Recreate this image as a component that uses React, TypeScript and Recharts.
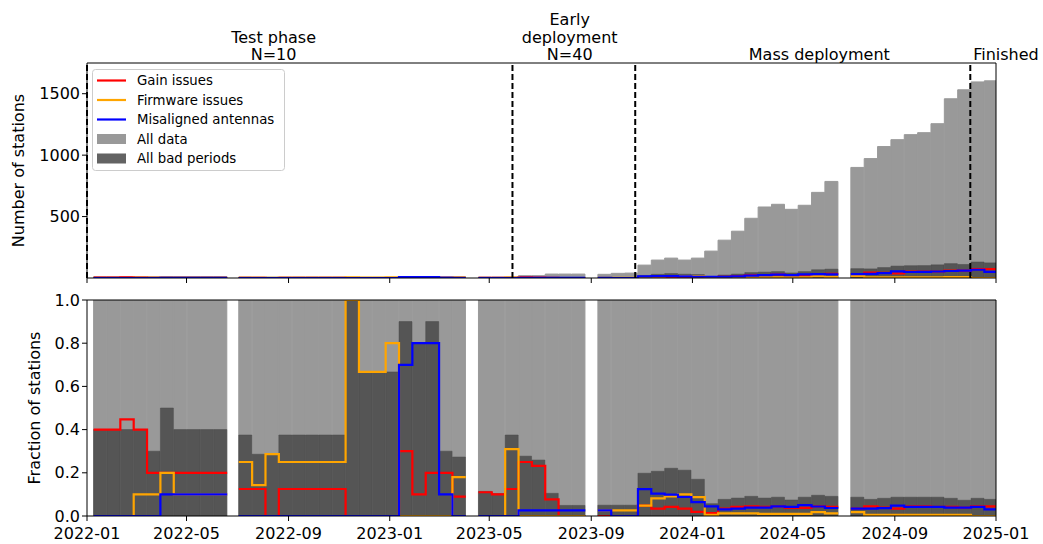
import React from "react";
import { ComposedChart, Bar, Line, XAxis, YAxis, ReferenceLine } from "recharts";

const FONT = "'DejaVu Sans', sans-serif";

// 16-day bins, grouped in runs without gaps
const runStarts = ["2022-01-09", "2022-07-03", "2023-04-18", "2023-09-09", "2024-07-10"];
const runBins = [10, 17, 8, 18, 11];
const BIN_DAYS = 16.1;

const monthTicks = ["2022-01", "2022-05", "2022-09", "2023-01", "2023-05", "2023-09", "2024-01", "2024-05", "2024-09", "2025-01"];

const phaseBounds = ["2022-01-01", "2023-05-29", "2023-10-24", "2024-12-01"];
const phaseTitles = [["Test phase", "N=10"], ["Early", "deployment", "N=40"], ["Mass deployment"], ["Finished"]];
const phaseTitleDates = ["2022-08-14", "2023-08-06", "2024-06-02", "2025-01-13"];

// station counts per bin
const allStations = [
  10, 10, 10, 10, 10, 10, 10, 10, 10, 10,
  8, 7, 7, 8, 8, 8, 8, 8, 5, 6, 6, 6, 10, 10, 10, 10, 11,
  8, 8, 8, 19, 19, 32, 32, 32,
  30, 38, 40, 105, 146, 162, 146, 162, 219, 308, 381, 486, 578, 600, 559, 592, 697, 786,
  900, 972, 1070, 1126, 1167, 1183, 1256, 1459, 1532, 1596, 1605,
];
const badStations = [
  4, 4, 4, 4, 3, 5, 4, 4, 4, 4,
  3, 2, 2, 3, 3, 3, 3, 3, 5, 4, 4, 4, 9, 8, 9, 3, 3,
  1, 1, 3, 5, 5, 3, 2, 2,
  2, 2, 2, 21, 30, 36, 31, 28, 12, 24, 32, 44, 48, 52, 41, 52, 67, 72,
  76, 74, 85, 97, 100, 101, 107, 117, 110, 130, 123,
];
const gainStations = [
  4, 4, 4.5, 4, 2, 2, 2, 2, 2, 2,
  1, 1, 0, 1, 1, 1, 1, 1, 0, 0, 0, 0, 3, 1, 2, 2, 1,
  1, 1, 1, 5, 4, 2, 0, 0,
  0, 0, 0, 5, 5, 7, 5, 3, 3, 10, 16, 22, 24, 27, 21, 22, 31, 33,
  31, 44, 42, 38, 53, 53, 53, 61, 60, 72, 72,
];
const firmwareStations = [
  0, 0, 0, 1, 1, 2, 1, 1, 1, 1,
  2, 1, 2, 2, 2, 2, 2, 2, 5, 4, 4, 5, 0, 0, 0, 0, 2,
  0, 0, 2.5, 0, 0, 0, 0, 0,
  1, 1, 1, 5, 12, 15, 15, 14, 2, 4, 5, 6, 6, 6, 6, 6, 13, 9,
  16, 5, 5, 6, 6, 6, 6, 7, 8, 0, 0,
];
const misalignedStations = [
  0, 0, 0, 0, 0, 1, 1, 1, 1, 1,
  0, 0, 0, 0, 0, 0, 0, 0, 0, 0, 0, 0, 7, 8, 8, 1, 0,
  0, 0, 0, 0.5, 0.5, 1, 1, 1,
  1, 0, 0, 13, 15, 16, 13, 10, 10, 10, 13, 19, 23, 27, 23, 30, 31, 29,
  31, 33, 39, 54, 49, 50, 53, 57, 60, 67, 50,
];

// fraction of stations per bin
const badFraction = [
  0.4, 0.4, 0.4, 0.4, 0.3, 0.5, 0.4, 0.4, 0.4, 0.4,
  0.375, 0.286, 0.286, 0.375, 0.375, 0.375, 0.375, 0.375, 1.0, 0.667, 0.667, 0.667, 0.9, 0.8, 0.9, 0.3, 0.273,
  0.114, 0.104, 0.375, 0.277, 0.259, 0.105, 0.049, 0.049,
  0.05, 0.05, 0.05, 0.198, 0.207, 0.221, 0.212, 0.17, 0.057, 0.077, 0.083, 0.091, 0.083, 0.087, 0.074, 0.087, 0.096, 0.091,
  0.087, 0.077, 0.082, 0.087, 0.087, 0.087, 0.087, 0.082, 0.073, 0.082, 0.077,
];
const gainFraction = [
  0.4, 0.4, 0.447, 0.4, 0.2, 0.2, 0.2, 0.2, 0.2, 0.2,
  0.125, 0.125, 0, 0.125, 0.125, 0.125, 0.125, 0.125, 0, 0, 0, 0, 0.3, 0.1, 0.2, 0.2, 0.09,
  0.11, 0.1, 0.125, 0.25, 0.232, 0.077, 0, 0,
  0, 0, 0, 0.048, 0.034, 0.042, 0.034, 0.019, 0.014, 0.034, 0.042, 0.045, 0.042, 0.045, 0.038, 0.038, 0.045, 0.042,
  0.034, 0.045, 0.039, 0.034, 0.045, 0.045, 0.042, 0.042, 0.039, 0.045, 0.045,
];
const firmwareFraction = [
  0, 0, 0, 0.1, 0.1, 0.2, 0.1, 0.1, 0.1, 0.1,
  0.25, 0.143, 0.286, 0.25, 0.25, 0.25, 0.25, 0.25, 1.0, 0.667, 0.667, 0.8, 0, 0, 0, 0, 0.18,
  0, 0, 0.31, 0, 0, 0, 0, 0,
  0.026, 0.026, 0.026, 0.048, 0.082, 0.091, 0.1, 0.087, 0.005, 0.012, 0.012, 0.012, 0.01, 0.01, 0.01, 0.01, 0.018, 0.012,
  0.018, 0.005, 0.005, 0.005, 0.005, 0.005, 0.005, 0.005, 0.005, 0, 0,
];
const misalignedFraction = [
  0, 0, 0, 0, 0, 0.1, 0.1, 0.1, 0.1, 0.1,
  0, 0, 0, 0, 0, 0, 0, 0, 0, 0, 0, 0, 0.7, 0.8, 0.8, 0.1, 0,
  0, 0, 0, 0.026, 0.026, 0.026, 0.026, 0.026,
  0.026, 0, 0, 0.124, 0.104, 0.099, 0.088, 0.064, 0.045, 0.031, 0.034, 0.039, 0.039, 0.045, 0.042, 0.05, 0.044, 0.037,
  0.034, 0.034, 0.036, 0.048, 0.042, 0.042, 0.042, 0.039, 0.039, 0.042, 0.031,
];

const W = 1043;
const PLOT_LEFT = 87;
const PLOT_RIGHT = 996;

const toDay = (iso: string) => (Date.parse(iso) - Date.parse("2022-01-01")) / 86400000;
const DAY_MAX = toDay("2025-01-01");
const tickDays = monthTicks.map((m) => toDay(m + "-01"));

const RED = "#ff0000";
const ORANGE = "#ffa500";
const BLUE = "#0000ff";
const LIGHT = "#999999";
const DARK = "#555555";

// one row per bin, placed at the bin centre
const bins: { x: number; total: number; bad: number; all: number; badFrac: number }[] = [];
{
  let k = 0;
  runStarts.forEach((s, r) => {
    const d0 = toDay(s);
    for (let i = 0; i < runBins[r]; i++, k++) {
      bins.push({ x: d0 + (i + 0.5) * BIN_DAYS, total: allStations[k], bad: badStations[k], all: 1, badFrac: badFraction[k] });
    }
  });
}

// step outline on the bin edges, broken between runs
function stepPoints(values: number[]) {
  const pts: { x: number; y: number | null }[] = [];
  let k = 0;
  runStarts.forEach((s, r) => {
    const d0 = toDay(s);
    const n = runBins[r];
    for (let i = 0; i < n; i++) pts.push({ x: d0 + i * BIN_DAYS, y: values[k + i] });
    pts.push({ x: d0 + n * BIN_DAYS, y: values[k + n - 1] });
    pts.push({ x: d0 + n * BIN_DAYS, y: null });
    k += n;
  });
  return pts;
}

const tickStyle = { fill: "#000", fontSize: 16, fontFamily: FONT };

function AxisTitle(props: any) {
  const { viewBox, text, cx } = props;
  const cy = viewBox ? viewBox.y + viewBox.height / 2 : 0;
  return (
    <text x={cx} y={cy} transform={`rotate(-90 ${cx} ${cy})`} textAnchor="middle" dominantBaseline="central"
      fontSize={16} fontFamily={FONT} fill="#000">
      {text}
    </text>
  );
}

function PhaseTitle(props: any) {
  const { viewBox, lines } = props;
  if (!viewBox) return null;
  const n = lines.length;
  return (
    <text textAnchor="middle" fontSize={16} fontFamily={FONT} fill="#000">
      {lines.map((t: string, i: number) => (
        <tspan key={i} x={viewBox.x} y={viewBox.y - 3 - (n - 1 - i) * 17.5}>{t}</tspan>
      ))}
    </text>
  );
}

const legendItems = [
  { label: "Gain issues", color: RED, patch: false },
  { label: "Firmware issues", color: ORANGE, patch: false },
  { label: "Misaligned antennas", color: BLUE, patch: false },
  { label: "All data", color: "#999999", patch: true },
  { label: "All bad periods", color: "#636363", patch: true },
];

function Legend() {
  return (
    <svg width={W} height={290} style={{ position: "absolute", left: 0, top: 0, pointerEvents: "none" }}>
      <rect x={92.5} y={69.5} width={192} height={101} rx={3} fill="#fff" fillOpacity={0.8} stroke="#cccccc" />
      {legendItems.map((it, i) => {
        const cy = 80.5 + i * 19.5;
        return (
          <g key={it.label}>
            {it.patch ? (
              <rect x={97} y={cy - 5} width={29} height={10} fill={it.color} />
            ) : (
              <line x1={97} x2={126} y1={cy} y2={cy} stroke={it.color} strokeWidth={2.2} />
            )}
            <text x={137} y={cy} dominantBaseline="central" fontSize={13.3} fontFamily={FONT} fill="#000">
              {it.label}
            </text>
          </g>
        );
      })}
    </svg>
  );
}

// hidden axes share the time domain; they sit on top with no height so they take no room
function hiddenAxis(id: string) {
  return <XAxis key={id} xAxisId={id} dataKey="x" type="number" domain={[0, DAY_MAX]} allowDataOverflow hide orientation="top" height={0} />;
}

function stepLines(gain: number[], firmware: number[], misaligned: number[]) {
  const series = [
    { name: "gain", values: gain, color: RED },
    { name: "firmware", values: firmware, color: ORANGE },
    { name: "misaligned", values: misaligned, color: BLUE },
  ];
  return series.map((s) => (
    <Line key={s.name} xAxisId="l" data={stepPoints(s.values)} dataKey="y" type="stepAfter" stroke={s.color}
      strokeWidth={2.2} dot={false} activeDot={false} connectNulls={false} isAnimationActive={false} />
  ));
}

export default function App() {
  return (
    <div style={{ position: "absolute", left: 0, top: 0, width: W, height: 544, background: "#fff" }}>
      <div style={{ position: "absolute", left: 0, top: 0 }}>
        <ComposedChart width={W} height={290} data={bins} barCategoryGap={0} barGap={0}
          margin={{ top: 63, right: W - PLOT_RIGHT, bottom: 0, left: 0 }}>
          <XAxis xAxisId="x" dataKey="x" type="number" domain={[0, DAY_MAX]} allowDataOverflow ticks={tickDays}
            tickFormatter={() => ""} height={12} tickSize={5} stroke="#000" />
          {hiddenAxis("b")}
          {hiddenAxis("l")}
          <YAxis type="number" domain={[0, 1750]} allowDataOverflow ticks={[500, 1000, 1500]} width={PLOT_LEFT}
            tickSize={5} tickMargin={2} tick={tickStyle} stroke="#000"
            label={<AxisTitle cx={18.5} text="Number of stations" />} />
          <Bar xAxisId="x" dataKey="total" fill={LIGHT} stroke={LIGHT} strokeWidth={1} isAnimationActive={false} />
          <Bar xAxisId="b" dataKey="bad" fill={DARK} stroke="#4a4a4a" strokeWidth={0.5} isAnimationActive={false} />
          {stepLines(gainStations, firmwareStations, misalignedStations)}
          {phaseBounds.map((d) => (
            <ReferenceLine key={d} xAxisId="x" x={toDay(d)} stroke="#000" strokeWidth={2} strokeDasharray="6 3" />
          ))}
          {phaseTitles.map((lines, i) => (
            <ReferenceLine key={lines[0]} xAxisId="x" x={toDay(phaseTitleDates[i])} stroke="none" ifOverflow="visible"
              label={<PhaseTitle lines={lines} />} />
          ))}
          <ReferenceLine xAxisId="x" y={1750} stroke="#000" />
          <ReferenceLine xAxisId="x" x={DAY_MAX} stroke="#000" />
        </ComposedChart>
        <Legend />
      </div>
      <div style={{ position: "absolute", left: 0, top: 290 }}>
        <ComposedChart width={W} height={254} data={bins} barCategoryGap={0} barGap={0}
          margin={{ top: 10, right: W - PLOT_RIGHT, bottom: 0, left: 0 }}>
          <XAxis xAxisId="x" dataKey="x" type="number" domain={[0, DAY_MAX]} allowDataOverflow ticks={tickDays}
            tickFormatter={(v: number) => monthTicks[tickDays.indexOf(v)] ?? ""} height={28} tickSize={5} tickMargin={7}
            tick={tickStyle} stroke="#000" />
          {hiddenAxis("b")}
          {hiddenAxis("l")}
          <YAxis type="number" domain={[0, 1]} allowDataOverflow ticks={[0, 0.2, 0.4, 0.6, 0.8, 1.0]} width={PLOT_LEFT}
            tickFormatter={(v: number) => v.toFixed(1)} tickSize={5} tickMargin={2} tick={tickStyle} stroke="#000"
            label={<AxisTitle cx={34.5} text="Fraction of stations" />} />
          <Bar xAxisId="x" dataKey="all" fill={LIGHT} stroke={LIGHT} strokeWidth={1} isAnimationActive={false} />
          <Bar xAxisId="b" dataKey="badFrac" fill={DARK} stroke="#4a4a4a" strokeWidth={0.5} isAnimationActive={false} />
          {stepLines(gainFraction, firmwareFraction, misalignedFraction)}
          <ReferenceLine xAxisId="x" y={1} stroke="#000" />
          <ReferenceLine xAxisId="x" x={DAY_MAX} stroke="#000" />
        </ComposedChart>
      </div>
    </div>
  );
}
